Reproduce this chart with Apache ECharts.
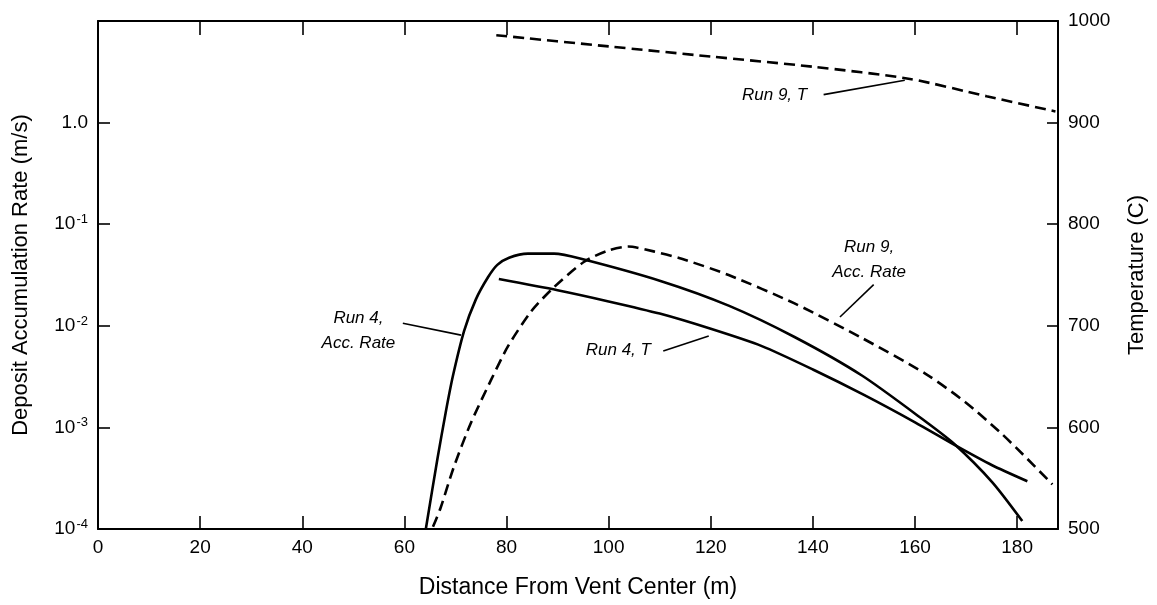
<!DOCTYPE html>
<html><head><meta charset="utf-8">
<script src="https://cdn.jsdelivr.net/npm/echarts@6/dist/echarts.min.js"></script>
<style>html,body{margin:0;padding:0;background:#fff}#c{width:1157px;height:605px}</style>
</head><body><div id="c"></div>
<script>
// ---- data ----
const xTickValues = [0, 20, 40, 60, 80, 100, 120, 140, 160, 180];
const tempTicks = [500, 600, 700, 800, 900, 1000];

// Run 4, deposit accumulation rate (m/s) - left log axis
const run4AccX = [64.2, 66.5, 68.1, 69.5, 71.7, 74.0, 76.4, 78.2, 80.5, 84.2, 89.3, 94.6, 110.3, 123.5, 136.4, 149.6, 162.0, 167.8, 175.1, 181.0];
const run4AccY = [1.0e-4, 5.0e-4, 1.41e-3, 3.2e-3, 8.9e-3, 0.0182, 0.0302, 0.0398, 0.0468, 0.0513, 0.0513, 0.0457, 0.0275, 0.0158, 0.00776, 0.00324, 0.00115, 6.8e-4, 2.9e-4, 1.2e-4];

// Run 9, deposit accumulation rate (m/s) - left log axis
const run9AccX = [65.6, 67.1, 69.7, 73.0, 77.0, 80.3, 84.8, 89.3, 95.2, 99.9, 103.8, 109.0, 114.3, 123.5, 136.4, 149.6, 162.0, 169.8, 176.5, 181.0, 186.9];
const run9AccY = [1.05e-4, 1.62e-4, 4.1e-4, 1.10e-3, 2.95e-3, 6.3e-3, 0.0138, 0.0240, 0.0427, 0.0550, 0.0603, 0.0537, 0.0457, 0.0316, 0.0166, 0.00759, 0.00339, 0.00178, 9.1e-4, 5.5e-4, 2.75e-4];

// Run 4, temperature (C) - right axis
const run4TX = [78.5, 90, 100, 110, 120, 130, 140, 150, 160, 168, 175, 182];
const run4TY = [746, 735, 724, 712, 697, 680, 657, 632, 605, 582, 563, 547];

// Run 9, temperature (C) - right axis
const run9TX = [78.0, 100.0, 120.0, 140.0, 159.0, 174.0, 187.5];
const run9TY = [986, 975, 965, 955, 943, 926, 911];

// curve labels: [text, x, y]
const run9TLabel = ['Run 9, T', 132.5, 927];
const run9TPointer = [[142.1, 927.5], [158.0, 941.7]];
const run9AccLabel = ['Run 9,\nAcc. Rate', 151, 0.0449];
const run9AccPointer = [[151.9, 0.0254], [145.3, 0.0122]];
const run4AccLabel = ['Run 4,\nAcc. Rate', 51, 0.009];
const run4AccPointer = [[59.7, 0.0106], [71.1, 0.0081]];
const run4TLabel = ['Run 4, T', 101.9, 676];
const run4TPointer = [[110.7, 675.3], [119.6, 690]];

// ---- chart ----
const zip = (xs, ys) => xs.map((x, i) => [x, ys[i]]);
const FONT = '"Liberation Sans", Arial, sans-serif';
const labelStyle = {fontFamily: FONT, fontSize: 17, fontStyle: 'italic', color: '#000', lineHeight: 25};

function annot(label, pointer) {
  return {
    markPoint: {
      silent: true, symbol: 'circle', symbolSize: 0, animation: false,
      label: Object.assign({show: true, position: 'inside', formatter: label[0]}, labelStyle),
      data: [{coord: [label[1], label[2]]}]
    },
    markLine: {
      silent: true, symbol: ['none', 'none'], animation: false,
      label: {show: false},
      lineStyle: {color: '#000', width: 1.6, type: 'solid'},
      emphasis: {disabled: true},
      data: [[{coord: pointer[0]}, {coord: pointer[1]}]]
    }
  };
}

function lineSeries(name, data, yIdx, dashed, extra) {
  return Object.assign({
    name: name, type: 'line', data: data, yAxisIndex: yIdx, xAxisIndex: 0,
    showSymbol: false, symbol: 'none', smooth: 0.25,
    lineStyle: {color: '#000', width: 2.6, type: dashed ? [11, 6] : 'solid'},
    animation: false, silent: true
  }, extra || {});
}

const axisLineStyle = {show: true, onZero: false, lineStyle: {color: '#000', width: 2}};
const tickLabel = {fontFamily: FONT, fontSize: 19, color: '#000'};

const chart = echarts.init(document.getElementById('c'), null, {renderer: 'canvas'});
chart.setOption({
  backgroundColor: '#fff',
  animation: false,
  grid: {left: 98, right: 99, top: 21, bottom: 76, containLabel: false},
  xAxis: [
    {
      type: 'value', position: 'bottom', min: 0, max: 188, interval: 20,
      name: 'Distance From Vent Center (m)', nameLocation: 'middle', nameGap: 47,
      nameTextStyle: {fontFamily: FONT, fontSize: 23, color: '#000'},
      axisLine: axisLineStyle,
      axisTick: {show: true, inside: true, length: 13, lineStyle: {color: '#000', width: 1.6}},
      axisLabel: Object.assign({margin: 9, showMaxLabel: false,
        formatter: v => (xTickValues.indexOf(v) >= 0 ? String(v) : '')}, tickLabel),
      splitLine: {show: false}
    },
    {
      type: 'value', position: 'top', min: 0, max: 188, interval: 20,
      axisLine: axisLineStyle,
      axisTick: {show: true, inside: true, length: 14, lineStyle: {color: '#000', width: 1.6}},
      axisLabel: {show: false}, splitLine: {show: false}
    }
  ],
  yAxis: [
    {
      type: 'log', logBase: 10, min: 1e-4, max: 10, position: 'left',
      name: 'Deposit Accumulation Rate (m/s)', nameLocation: 'middle', nameGap: 66,
      nameTextStyle: {fontFamily: FONT, fontSize: 22, color: '#000'},
      axisLine: axisLineStyle,
      axisTick: {show: true, inside: true, length: 12, lineStyle: {color: '#000', width: 1.6}},
      axisLabel: Object.assign({margin: 10,
        formatter: function (v) {
          const e = Math.round(Math.log10(v));
          if (e === 0) return '1.0';
          if (e > 0) return '';
          return '10{sup|' + e + '}';
        },
        rich: {sup: {fontFamily: FONT, fontSize: 13, color: '#000', padding: [0, 0, 9, 1]}}
      }, tickLabel),
      splitLine: {show: false}, minorTick: {show: false}
    },
    {
      type: 'value', min: 500, max: 1000, interval: 100, position: 'right',
      name: 'Temperature (C)', nameLocation: 'middle', nameGap: 68, nameRotate: 90,
      nameTextStyle: {fontFamily: FONT, fontSize: 22, color: '#000'},
      axisLine: axisLineStyle,
      axisTick: {show: true, inside: true, length: 11, lineStyle: {color: '#000', width: 1.6}},
      axisLabel: Object.assign({margin: 10, formatter: v => (tempTicks.indexOf(v) >= 0 ? String(v) : '')}, tickLabel),
      splitLine: {show: false}
    }
  ],
  series: [
    lineSeries('Run 4, Acc. Rate', zip(run4AccX, run4AccY), 0, false, annot(run4AccLabel, run4AccPointer)),
    lineSeries('Run 9, Acc. Rate', zip(run9AccX, run9AccY), 0, true, annot(run9AccLabel, run9AccPointer)),
    lineSeries('Run 4, T', zip(run4TX, run4TY), 1, false, annot(run4TLabel, run4TPointer)),
    lineSeries('Run 9, T', zip(run9TX, run9TY), 1, true, annot(run9TLabel, run9TPointer))
  ]
});
</script>
</body></html>
